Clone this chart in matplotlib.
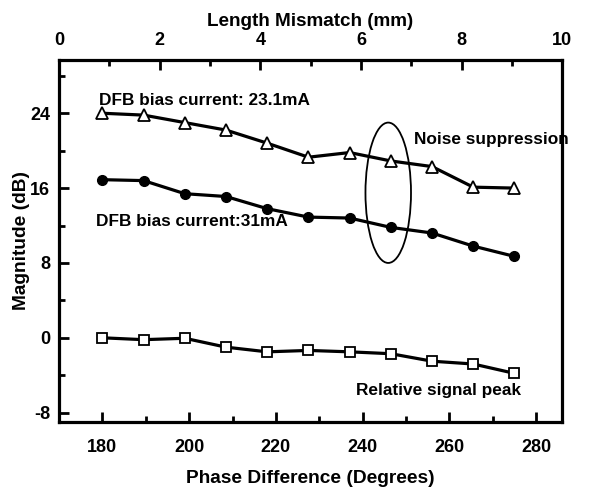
import matplotlib
matplotlib.use("Agg")
import matplotlib.pyplot as plt
from matplotlib.patches import Ellipse
from matplotlib.ticker import MultipleLocator

plt.rcParams['font.family'] = ['Liberation Sans', 'DejaVu Sans']
plt.rcParams['font.weight'] = 'bold'
plt.rcParams['axes.unicode_minus'] = False

# data
phase = [180, 189.5, 199, 208.5, 218, 227.5, 237, 246.5, 256, 265.5, 275]
noise_23mA = [24.0, 23.8, 23.0, 22.2, 20.8, 19.3, 19.8, 18.9, 18.3, 16.1, 16.0]
noise_31mA = [16.9, 16.8, 15.4, 15.1, 13.8, 12.9, 12.8, 11.8, 11.2, 9.8, 8.7]
signal_peak = [0.0, -0.2, -0.05, -1.0, -1.5, -1.35, -1.5, -1.7, -2.5, -2.8, -3.8]
mismatch_ticks = [0, 2, 4, 6, 8, 10]

fig = plt.figure(figsize=(5.92, 4.91), dpi=100)
ax = fig.add_axes([0.0997, 0.1405, 0.8499, 0.7375])

lw = 2.3
ax.plot(phase, noise_23mA, color='black', lw=lw, marker='^', ms=8,
        mfc='white', mec='black', mew=1.3)
ax.plot(phase, noise_31mA, color='black', lw=lw, marker='o', ms=7,
        mfc='black', mec='black')
ax.plot(phase, signal_peak, color='black', lw=lw, marker='s', ms=6.5,
        mfc='white', mec='black', mew=1.3)

ax.add_patch(Ellipse((245.9, 15.5), 10.5, 15, fill=False, ec='black', lw=1.3))

fs_txt = 12.4
ax.text(179.3, 25.4, 'DFB bias current: 23.1mA', fontsize=fs_txt, fontweight='bold', va='center')
ax.text(178.6, 12.4, 'DFB bias current:31mA', fontsize=fs_txt, fontweight='bold', va='center')
ax.text(251.9, 21.2, 'Noise suppression', fontsize=fs_txt, fontweight='bold', va='center')
ax.text(238.5, -5.6, 'Relative signal peak', fontsize=fs_txt, fontweight='bold', va='center')

ax.set_xlim(170, 286)
ax.set_ylim(-9, 29.7)
ax.set_xticks([180, 200, 220, 240, 260, 280])
ax.xaxis.set_minor_locator(MultipleLocator(10))
ax.set_yticks([-8, 0, 8, 16, 24])
ax.yaxis.set_minor_locator(MultipleLocator(4))
ax.tick_params(which='both', direction='in', width=2, labelsize=13,
               top=False, right=False)
ax.tick_params(which='major', length=7)
ax.tick_params(which='minor', length=4)
ax.tick_params(axis='x', which='major', pad=12)
ax.tick_params(axis='y', which='major', pad=6.5)
for lbl in ax.get_xticklabels() + ax.get_yticklabels():
    lbl.set_fontweight('bold')
for s in ax.spines.values():
    s.set_linewidth(2.3)

ax.set_xlabel('Phase Difference (Degrees)', fontsize=13.8, fontweight='bold', labelpad=10)
ax.set_ylabel('Magnitude (dB)', fontsize=13.8, fontweight='bold', labelpad=0)

top = ax.twiny()
top.set_xlim(0, 10)
top.set_xticks(mismatch_ticks)
top.xaxis.set_minor_locator(MultipleLocator(1))
top.tick_params(which='both', direction='in', width=2, labelsize=13)
top.tick_params(which='major', length=7, pad=8)
top.tick_params(which='minor', length=4)
for lbl in top.get_xticklabels():
    lbl.set_fontweight('bold')
top.set_xlabel('Length Mismatch (mm)', fontsize=13.6, fontweight='bold', labelpad=4)

fig.savefig('out.png', dpi=100)
